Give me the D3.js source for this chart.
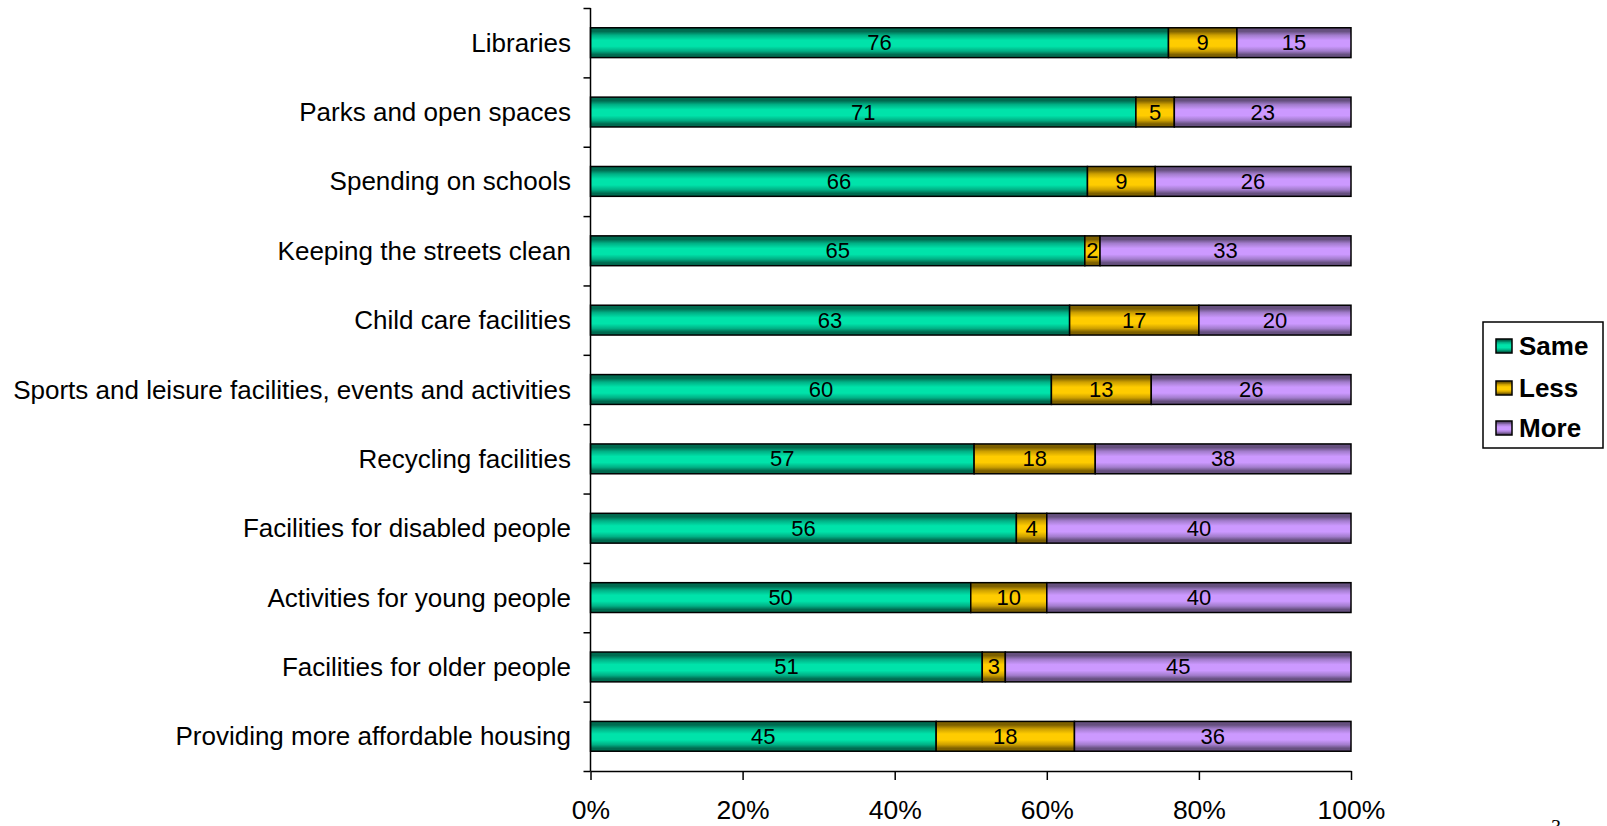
<!DOCTYPE html>
<html><head><meta charset="utf-8">
<script src="https://cdn.jsdelivr.net/npm/d3@7"></script>
<style>body{margin:0;background:#fff;}svg{display:block;font-family:"Liberation Sans",Arial,sans-serif;}</style>
</head><body>
<svg id="c" width="1607" height="826"></svg>
<script>
const categories = ["Libraries","Parks and open spaces","Spending on schools","Keeping the streets clean","Child care facilities","Sports and leisure facilities, events and activities","Recycling facilities","Facilities for disabled people","Activities for young people","Facilities for older people","Providing more affordable housing"];
const same = [76,71,66,65,63,60,57,56,50,51,45];
const less = [9,5,9,2,17,13,18,4,10,3,18];
const more = [15,23,26,33,20,26,38,40,40,45,36];
const seriesNames = ["Same","Less","More"];
const xTicks = [0,0.2,0.4,0.6,0.8,1];

const svg = d3.select("#c");
const x = d3.scaleLinear().domain([0,1]).range([590.5,1351]);
const y = d3.scaleBand().domain(categories).range([8,771]).paddingInner(0.57).paddingOuter(0.285);
const yB = d3.scaleLinear().domain([0,categories.length]).range([8,771]);

const colors = {
  Same:{light:"#00e3aa",mid:"#00b085",dark:"#006b50"},
  Less:{light:"#ffcc00",mid:"#cc9f00",dark:"#7d6000"},
  More:{light:"#cc99ff",mid:"#a27ccc",dark:"#66507f"}
};
const defs = svg.append("defs");
seriesNames.forEach(s=>{
  const g = defs.append("linearGradient").attr("id","g"+s).attr("x1",0).attr("y1",0).attr("x2",0).attr("y2",1);
  [[0,"dark"],[0.12,"dark"],[0.25,"mid"],[0.42,"light"],[0.62,"light"],[0.78,"mid"],[0.9,"dark"],[1,"dark"]].forEach(([o,k])=>{
    g.append("stop").attr("offset",o).attr("stop-color",colors[s][k]);
  });
});

const rows = categories.map((c,i)=>({cat:c, Same:same[i], Less:less[i], More:more[i]}));
const stackData = rows.map(r=>{
  const tot = r.Same+r.Less+r.More;
  const o = {cat:r.cat};
  seriesNames.forEach(s=>o[s]=r[s]/tot);
  o.raw = r;
  return o;
});
const stack = d3.stack().keys(seriesNames)(stackData);

const gBars = svg.append("g");
stack.forEach(layer=>{
  const s = layer.key;
  layer.forEach(d=>{
    gBars.append("rect")
      .attr("x",x(d[0])).attr("y",y(d.data.cat))
      .attr("width",x(d[1])-x(d[0])).attr("height",y.bandwidth())
      .attr("fill","url(#g"+s+")").attr("stroke","#000").attr("stroke-width",1.5);
    gBars.append("text")
      .attr("x",(x(d[0])+x(d[1]))/2).attr("y",y(d.data.cat)+y.bandwidth()/2)
      .attr("text-anchor","middle").attr("dominant-baseline","central")
      .attr("font-size",22).attr("fill","#000").text(d.data.raw[s]);
  });
});

// y axis with boundary ticks
const yAxis = svg.append("g").attr("transform","translate(590.5,0)")
  .call(d3.axisLeft(yB).tickValues(d3.range(categories.length+1)).tickSize(7).tickFormat(""));
yAxis.select(".domain").attr("stroke","#000").attr("stroke-width",1.5).attr("d","M0,8V771");
yAxis.selectAll(".tick line").attr("stroke","#000").attr("stroke-width",1.5);

svg.append("g").selectAll("text").data(categories).join("text")
  .attr("x",571).attr("y",d=>y(d)+y.bandwidth()/2)
  .attr("text-anchor","end").attr("dominant-baseline","central")
  .attr("font-size",26).attr("fill","#000").text(d=>d);

// x axis
const xAxis = svg.append("g").attr("transform","translate(0,771)")
  .call(d3.axisBottom(x).tickValues(xTicks).tickSize(9).tickSizeOuter(0).tickPadding(20).tickFormat(d3.format(".0%")));
xAxis.select(".domain").attr("stroke","#000").attr("stroke-width",1.5);
xAxis.selectAll(".tick line").attr("stroke","#000").attr("stroke-width",1.5);
xAxis.selectAll(".tick text").attr("font-size",26.5).attr("fill","#000").attr("font-family","Liberation Sans, Arial, sans-serif");

// legend
const lg = svg.append("g");
lg.append("rect").attr("x",1483).attr("y",322).attr("width",120).attr("height",126)
  .attr("fill","#fff").attr("stroke","#000").attr("stroke-width",1.5);
const ly = [346,388,428];
seriesNames.forEach((s,i)=>{
  lg.append("rect").attr("x",1496).attr("y",ly[i]-7).attr("width",16).attr("height",14)
    .attr("fill","url(#g"+s+")").attr("stroke","#000").attr("stroke-width",1.5);
  lg.append("text").attr("x",1519).attr("y",ly[i]).attr("dominant-baseline","central")
    .attr("font-size",26).attr("font-weight","bold").attr("fill","#000").text(s);
});

svg.append("text").attr("x",1551).attr("y",834).attr("font-family","Liberation Serif, serif")
  .attr("font-size",20).attr("fill","#000").text("3");
</script>
</body></html>
